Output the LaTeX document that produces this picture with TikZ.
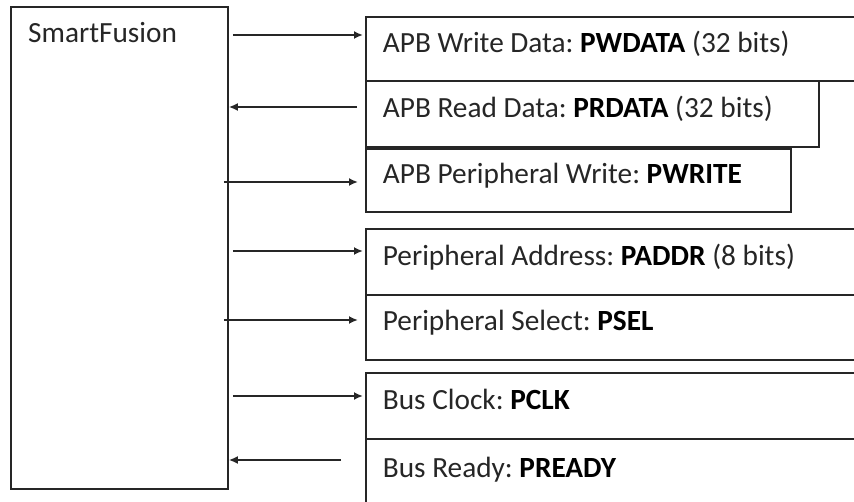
\documentclass[tikz,border=0pt]{standalone}
\usepackage{fontspec}
\setmainfont{Carlito}
\usetikzlibrary{positioning}
\usetikzlibrary{arrows.meta}

\tikzset{
  chip/.style={draw=black!85, line width=1.8, anchor=north west, minimum width=217bp, minimum height=482bp},
  sigbox/.style={draw=black!85, line width=1.8, anchor=north west, inner xsep=17bp, align=flush left,
    text height=19bp, text depth=12bp},
  sig/.style={draw=black!85, line width=1.8, -{Latex[length=9bp,width=8bp]}}
}

\begin{document}
\frenchspacing
\begin{tikzpicture}[x=1bp, y=-1bp, font=\fontsize{29.3bp}{34bp}\selectfont, text=black!85]
        \useasboundingbox (0,0) rectangle (854,502);
        \clip (0,0) rectangle (854,502);

        \node[chip] (sf) at (10,6) {};
        \node[anchor=base west, inner sep=0] (title) at ([xshift=18bp, yshift=-37bp]sf.north west) {SmartFusion};

        \node[sigbox, text width=520bp, minimum height=64bp] (wd) at (365,16) {APB Write Data: \textbf{\color{black}PWDATA} (32 bits)};
        \node[sigbox, text width=419bp, minimum height=66bp] (rd) at (365,80) {APB Read Data: \textbf{\color{black}PRDATA} (32 bits)};
        \node[sigbox, text width=391bp, minimum height=63bp] (wr) at (365,148) {APB Peripheral Write: \textbf{\color{black}PWRITE}};
        \node[sigbox, text width=520bp, minimum height=66bp] (addr) at (365,228) {Peripheral Address: \textbf{\color{black}PADDR} (8 bits)};
        \node[sigbox, text width=520bp, minimum height=65bp] (sel) at (365,294) {Peripheral Select: \textbf{\color{black}PSEL}};
        \node[sigbox, text width=520bp, minimum height=66bp] (clk) at (365,372) {Bus Clock: \textbf{\color{black}PCLK}};
        \node[sigbox, text width=520bp, minimum height=70bp] (rdy) at (365,438) {Bus Ready: \textbf{\color{black}PREADY}};

        % arrow ends
        \coordinate (pwdata) at (363,35);
        \coordinate (prdata) at (357,107);
        \coordinate (pwrite) at (358,182);
        \coordinate (paddr) at (363,251);
        \coordinate (psel) at (358,320);
        \coordinate (pclk) at (363,396);
        \coordinate (pready) at (341,460);

        \draw[sig] ([xshift=4bp]sf.east |- pwdata) -- (pwdata);
        \draw[sig] (prdata) -- (sf.east |- prdata);
        \draw[sig] ([xshift=-5bp]sf.east |- pwrite) -- (pwrite);
        \draw[sig] ([xshift=4bp]sf.east |- paddr) -- (paddr);
        \draw[sig] ([xshift=-5bp]sf.east |- psel) -- (psel);
        \draw[sig] ([xshift=4bp]sf.east |- pclk) -- (pclk);
        \draw[sig] (pready) -- (sf.east |- pready);
\end{tikzpicture}
\end{document}
